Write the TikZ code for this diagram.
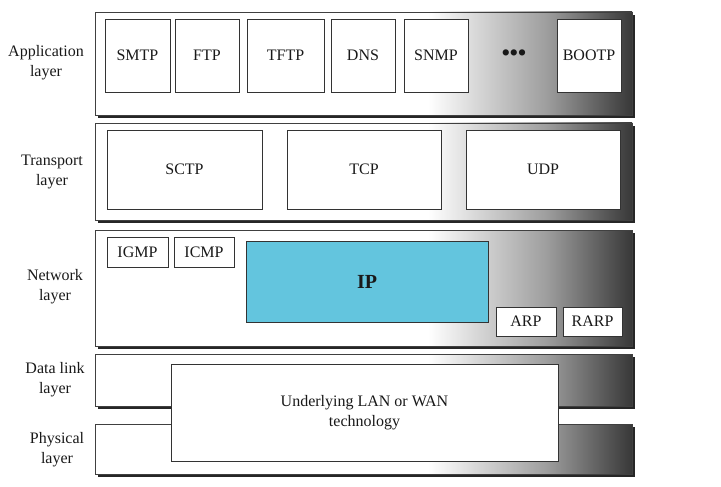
\documentclass[tikz,border=0pt]{standalone}
\usepackage{fontspec}
\setmainfont{Liberation Serif}
\usetikzlibrary{shadows}
\pgfdeclarehorizontalshading{layershade}{100bp}{color(0bp)=(white); color(56bp)=(white); color(67bp)=(black!38); color(75bp)=(black!78); color(100bp)=(black!78)}
\definecolor{ipblue}{RGB}{99,197,222}
\begin{document}
\begin{tikzpicture}[x=1pt,y=-1pt,
  every node/.style={font=\fontsize{16}{20}\selectfont, text=black!90},
  layer/.style={shade, shading=layershade, draw=black!75, line width=0.8pt, inner sep=0pt,
    drop shadow={shadow xshift=3pt, shadow yshift=-3pt, fill=black!85, opacity=1}},
  proto/.style={draw=black!80, fill=white, line width=0.8pt, inner sep=0pt},
  lbl/.style={align=center}]
\useasboundingbox (0,0) rectangle (721,487);
% layers
\node[layer, minimum width=537, minimum height=103] (app) at (363.5,63.5) {};
\node[layer, minimum width=537, minimum height=97] (trans) at (363.5,171.5) {};
\node[layer, minimum width=537, minimum height=116] (net) at (363.5,288) {};
\node[layer, minimum width=537, minimum height=52] (dl) at (363.5,380) {};
\node[layer, minimum width=537, minimum height=50] (phy) at (363.5,449) {};
% application
\node[proto, minimum width=65, minimum height=73] (smtp) at (137.5,55.5) {SMTP};
\node[proto, minimum width=64, minimum height=73] (ftp) at (207,55.5) {FTP};
\node[proto, minimum width=77, minimum height=73] (tftp) at (285.5,55.5) {TFTP};
\node[proto, minimum width=64, minimum height=73] (dns) at (363,55.5) {DNS};
\node[proto, minimum width=64, minimum height=73] (snmp) at (436,55.5) {SNMP};
\node[font=\fontsize{23}{28}\selectfont\bfseries, inner sep=0pt] (dots) at (514,55) {•••};
\node[proto, minimum width=64, minimum height=73] (bootp) at (589,55.5) {BOOTP};
% transport
\node[proto, minimum width=155, minimum height=79] (sctp) at (184.5,169.5) {SCTP};
\node[proto, minimum width=154, minimum height=79] (tcp) at (364,169.5) {TCP};
\node[proto, minimum width=154, minimum height=79] (udp) at (543,169.5) {UDP};
% network
\node[proto, minimum width=61, minimum height=30] (igmp) at (137.5,252) {IGMP};
\node[proto, minimum width=60, minimum height=30] (icmp) at (204,252) {ICMP};
\node[proto, fill=ipblue, minimum width=242, minimum height=81, font=\fontsize{20}{24}\selectfont\bfseries] (ip) at (367,281.5) {IP};
\node[proto, minimum width=60, minimum height=29] (arp) at (526,321.5) {ARP};
\node[proto, minimum width=59, minimum height=29] (rarp) at (592.5,321.5) {RARP};
% underlying
\node[proto, align=center, minimum width=387, minimum height=97] (lan) at (364.5,412.5) {Underlying LAN or WAN\\technology};
% labels
\node[lbl] (lapp) at (46,63) {Application\\layer};
\node[lbl] (ltrans) at (52,172) {Transport\\layer};
\node[lbl] (lnet) at (55,287) {Network\\layer};
\node[lbl] (ldl) at (55,380) {Data link\\layer};
\node[lbl] (lphy) at (57,450) {Physical\\layer};
\end{tikzpicture}
\end{document}
